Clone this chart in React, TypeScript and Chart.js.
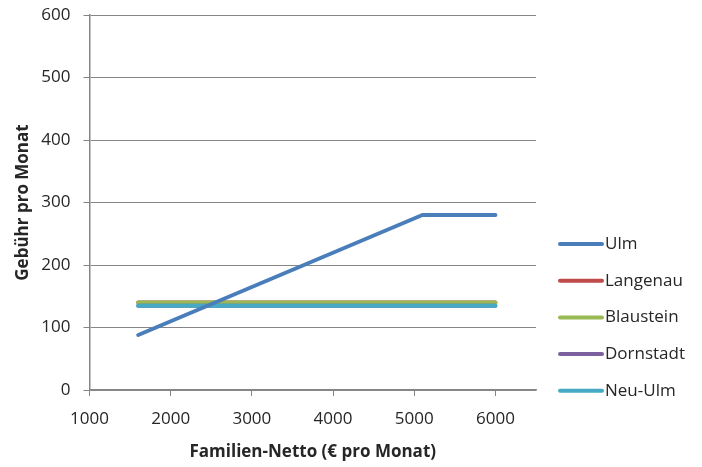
import { useEffect, useRef } from "react";
import { Chart, registerables } from "chart.js";

Chart.register(...registerables);

// Monthly fee by family net income
const seriesNames = ["Ulm", "Langenau", "Blaustein", "Dornstadt", "Neu-Ulm"];
const seriesColors = ["#4A7EBB", "#BE4B48", "#98B954", "#7D60A0", "#46AAC5"];

const ulmIncome = [1600, 5100, 6000];
const ulmFee = [88, 280, 280];

const flatIncome = [1600, 6000];
const langenauFee = [140, 140];
const blausteinFee = [140, 140];
const dornstadtFee = [135, 135];
const neuUlmFee = [135, 135];

const xTicks = [1000, 2000, 3000, 4000, 5000, 6000];

const FONT = "'Open Sans', sans-serif";
const GREY = "#868686";
const TEXT = "#262626";

const toPoints = (xs: number[], ys: number[]) => xs.map((x, i) => ({ x, y: ys[i] }));

// Legend on the right: short line samples with labels
const sideLegend = {
  id: "sideLegend",
  afterDraw(chart: any) {
    const ctx = chart.ctx;
    const x0 = 560;
    const x1 = 602;
    const top = 244;
    const step = 36.7;
    ctx.save();
    ctx.font = `17px ${FONT}`;
    ctx.textBaseline = "middle";
    ctx.textAlign = "left";
    seriesNames.forEach((name, i) => {
      const y = top + i * step;
      ctx.strokeStyle = seriesColors[i];
      ctx.lineWidth = 4;
      ctx.lineCap = "round";
      ctx.beginPath();
      ctx.moveTo(x0, y);
      ctx.lineTo(x1, y);
      ctx.stroke();
      ctx.fillStyle = TEXT;
      ctx.fillText(name, 605, y);
    });
    ctx.restore();
  },
};

export default function App() {
  const canvasRef = useRef<HTMLCanvasElement | null>(null);

  useEffect(() => {
    document.body.style.margin = "0";
    const canvas = canvasRef.current;
    if (!canvas) return;

    const datasetFor = (i: number, xs: number[], ys: number[], order: number) => ({
      label: seriesNames[i],
      data: toPoints(xs, ys),
      borderColor: seriesColors[i],
      backgroundColor: seriesColors[i],
      borderWidth: 4,
      borderCapStyle: "round" as const,
      borderJoinStyle: "round" as const,
      pointRadius: 0,
      fill: false,
      tension: 0,
      order,
    });

    const chart = new Chart(canvas, {
      type: "line",
      data: {
        datasets: [
          datasetFor(0, ulmIncome, ulmFee, 0),
          datasetFor(1, flatIncome, langenauFee, 4),
          datasetFor(2, flatIncome, blausteinFee, 3),
          datasetFor(3, flatIncome, dornstadtFee, 2),
          datasetFor(4, flatIncome, neuUlmFee, 1),
        ],
      },
      options: {
        animation: false,
        responsive: false,
        maintainAspectRatio: false,
        layout: { padding: { top: 15, right: 166, left: 0, bottom: 0 } },
        plugins: {
          legend: { display: false },
          tooltip: { enabled: false },
        },
        scales: {
          x: {
            type: "linear",
            min: 1000,
            max: 6500,
            afterBuildTicks: (scale: any) => {
              scale.ticks = xTicks.map((v) => ({ value: v }));
            },
            afterFit: (scale: any) => {
              scale.height = 77;
            },
            grid: {
              drawOnChartArea: false,
              drawTicks: true,
              tickLength: 6,
              color: GREY,
              lineWidth: 1,
            },
            border: { color: GREY, width: 1.5 },
            ticks: {
              color: TEXT,
              font: { family: FONT, size: 17 },
              padding: 13,
              maxRotation: 0,
              callback: (v: any) => String(v),
            },
            title: {
              display: true,
              text: "Familien-Netto (€ pro Monat)",
              color: TEXT,
              font: { family: FONT, size: 17, weight: "bold" },
              padding: { top: 10, bottom: 5 },
            },
          },
          y: {
            min: 0,
            max: 600,
            afterFit: (scale: any) => {
              scale.width = 89.5;
              scale.paddingTop = 0;
              scale.paddingBottom = 0;
            },
            grid: {
              drawOnChartArea: true,
              drawTicks: true,
              tickLength: 6,
              color: GREY,
              lineWidth: 1,
            },
            border: { color: GREY, width: 1.5 },
            ticks: {
              stepSize: 100,
              color: TEXT,
              font: { family: FONT, size: 17 },
              padding: 13,
            },
            title: {
              display: true,
              text: "Gebühr pro Monat",
              color: TEXT,
              font: { family: FONT, size: 17, weight: "bold" },
              padding: { top: 13, bottom: 4 },
            },
          },
        },
      },
      plugins: [sideLegend],
    });

    return () => chart.destroy();
  }, []);

  return (
    <div style={{ width: 702, height: 467, background: "#fff" }}>
      <canvas ref={canvasRef} width={702} height={467} style={{ display: "block" }} />
    </div>
  );
}
